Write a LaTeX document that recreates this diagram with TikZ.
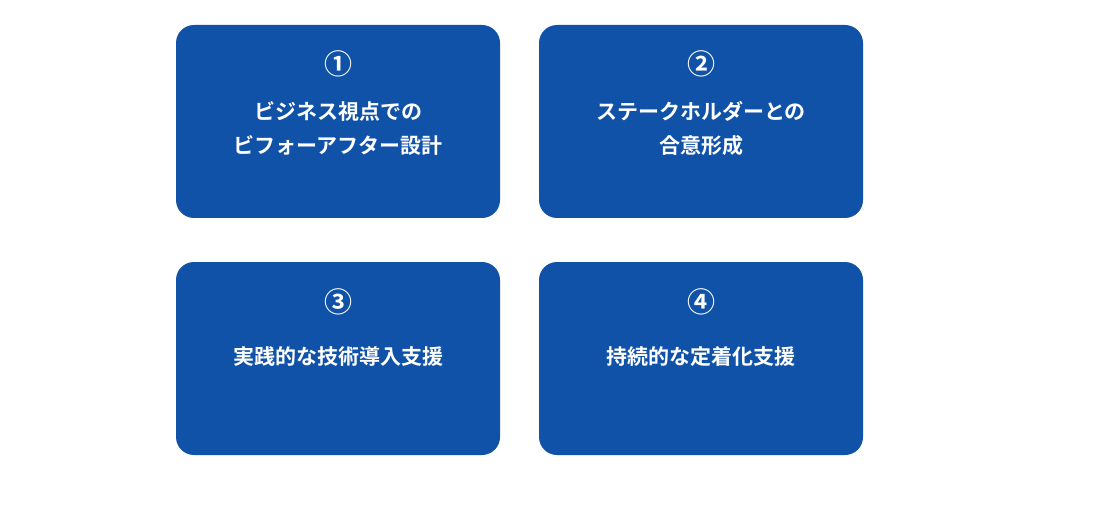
\documentclass[tikz,border=0pt]{standalone}
\usepackage{fontspec}
\newfontfamily\cjk{Noto Sans CJK JP Bold}
\definecolor{boxblue}{HTML}{1052A8}
\begin{document}
\begin{tikzpicture}[x=1pt,y=-1pt,
  card/.style={fill=boxblue,rounded corners=18pt,draw=none},
  num/.style={text=white,font=\cjk\fontsize{28}{28}\selectfont,inner sep=0pt},
  lbl/.style={text=white,font=\cjk\fontsize{21}{34}\selectfont,align=center,inner sep=0pt}]
\useasboundingbox (0,0) rectangle (1100,513);
\fill[white] (0,0) rectangle (1100,513);
\path[card] (176,25) rectangle (500,218) coordinate (b1);
\path[card] (539,25) rectangle (863,218) coordinate (b2);
\path[card] (176,262) rectangle (500,455) coordinate (b3);
\path[card] (539,262) rectangle (863,455) coordinate (b4);
\node[num] (n1) at (338,64) {①};
\node[num] (n2) at (701,64) {②};
\node[num] (n3) at (338,302) {③};
\node[num] (n4) at (701,302) {④};
\node[lbl] (t1) at (338,128) {ビジネス視点での\\ビフォーアフター設計};
\node[lbl] (t2) at (701,128) {ステークホルダーとの\\合意形成};
\node[lbl] (t3) at (338,357) {実践的な技術導入支援};
\node[lbl] (t4) at (701,357) {持続的な定着化支援};
\end{tikzpicture}
\end{document}
